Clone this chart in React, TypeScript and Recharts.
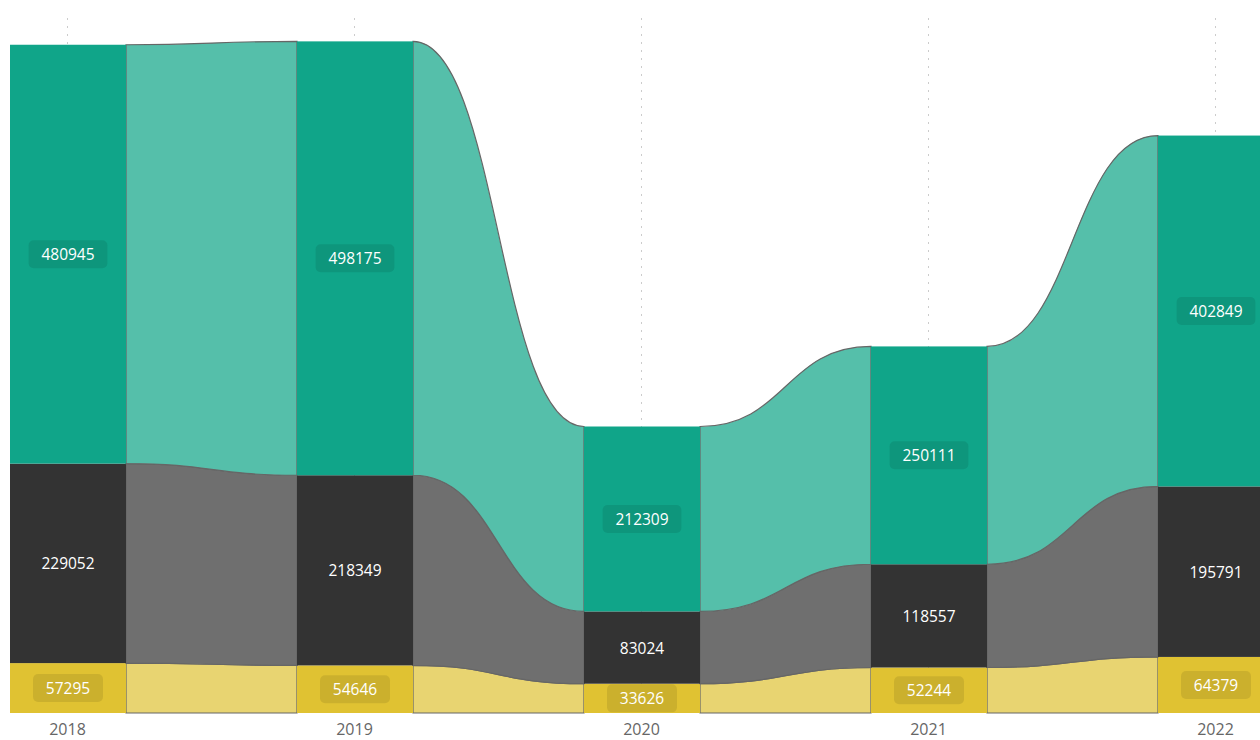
import { ComposedChart, Bar, XAxis, YAxis, CartesianGrid } from 'recharts';

const years = ['2018', '2019', '2020', '2021', '2022'];
const bottomValues = [57295, 54646, 33626, 52244, 64379];
const middleValues = [229052, 218349, 83024, 118557, 195791];
const topValues = [480945, 498175, 212309, 250111, 402849];

const SERIES = [
    { key: 'bottom', values: bottomValues, bar: '#E0C232', ribbon: '#E8D471', box: true },
    { key: 'middle', values: middleValues, bar: '#333333', ribbon: '#6F6F6F', box: false },
    { key: 'top', values: topValues, bar: '#10A589', ribbon: '#55BFAA', box: true },
];

const CHART_WIDTH = 1435;
const CHART_HEIGHT = 740;
const STEP = CHART_WIDTH / years.length;

const data = years.map((year, i) => ({
    year,
    bottom: bottomValues[i],
    middle: middleValues[i],
    top: topValues[i],
}));

const FONT = '"Open Sans", "Segoe UI", sans-serif';

// sum of the series stacked under series k at category i
const below = (k: number, i: number) =>
    SERIES.slice(0, k).reduce((acc, s) => acc + s.values[i], 0);

const makeShape = (k: number) => (props: any) => {
    const { x, y, width, height, index } = props;
    const s = SERIES[k];
    const v = s.values[index];
    if (!height || !v) return <g />;
    const ppu = height / v;
    const base = y + height + below(k, index) * ppu;

    let ribbon = null;
    if (index < years.length - 1) {
        const x1 = x + width;
        const x2 = x + STEP;
        const xm = (x1 + x2) / 2;
        const t1 = y;
        const b1 = y + height;
        const t2 = base - (below(k, index + 1) + s.values[index + 1]) * ppu;
        const b2 = base - below(k, index + 1) * ppu;
        const d = `M${x1},${t1} C${xm},${t1} ${xm},${t2} ${x2},${t2} L${x2},${b2} C${xm},${b2} ${xm},${b1} ${x1},${b1} Z`;
        ribbon = <path d={d} fill={s.ribbon} stroke="#666666" strokeWidth={1.2} />;
    }

    const label = String(v);
    const boxW = label.length * 8.8 + 26;
    const boxH = 28;
    const cx = x + width / 2;
    const cy = y + height / 2;

    return (
        <g>
            {ribbon}
            <rect x={x} y={y} width={width} height={height} fill={s.bar} />
            {s.box && (
                <rect x={cx - boxW / 2} y={cy - boxH / 2} width={boxW} height={boxH} rx={5} fill="rgba(0,0,0,0.09)" />
            )}
            <text x={cx} y={cy} textAnchor="middle" dominantBaseline="central" fill="#FFFFFF" fontSize={15.5} fontFamily={FONT}>
                {label}
            </text>
        </g>
    );
};

export default function App() {
    return (
        <div style={{ position: 'fixed', left: 0, top: 0, width: 1260, height: 740, overflow: 'hidden', background: '#fff' }}>
            <div style={{ position: 'absolute', left: -76, top: 0 }}>
                <ComposedChart
                    width={CHART_WIDTH}
                    height={CHART_HEIGHT}
                    data={data}
                    margin={{ top: 18, right: 0, left: 0, bottom: 0 }}
                >
                    <CartesianGrid vertical horizontal={false} stroke="#CCCCCC" strokeDasharray="2 6" />
                    <XAxis
                        dataKey="year"
                        height={27}
                        axisLine={false}
                        tickLine={false}
                        tick={{ fill: '#666666', fontSize: 16, fontFamily: FONT }}
                        tickMargin={5}
                    />
                    <YAxis hide domain={[0, 798000]} />
                    {SERIES.map((s, k) => (
                        <Bar
                            key={s.key}
                            dataKey={s.key}
                            stackId="a"
                            barSize={116}
                            fill={s.bar}
                            shape={makeShape(k)}
                            isAnimationActive={false}
                        />
                    ))}
                </ComposedChart>
            </div>
        </div>
    );
}
